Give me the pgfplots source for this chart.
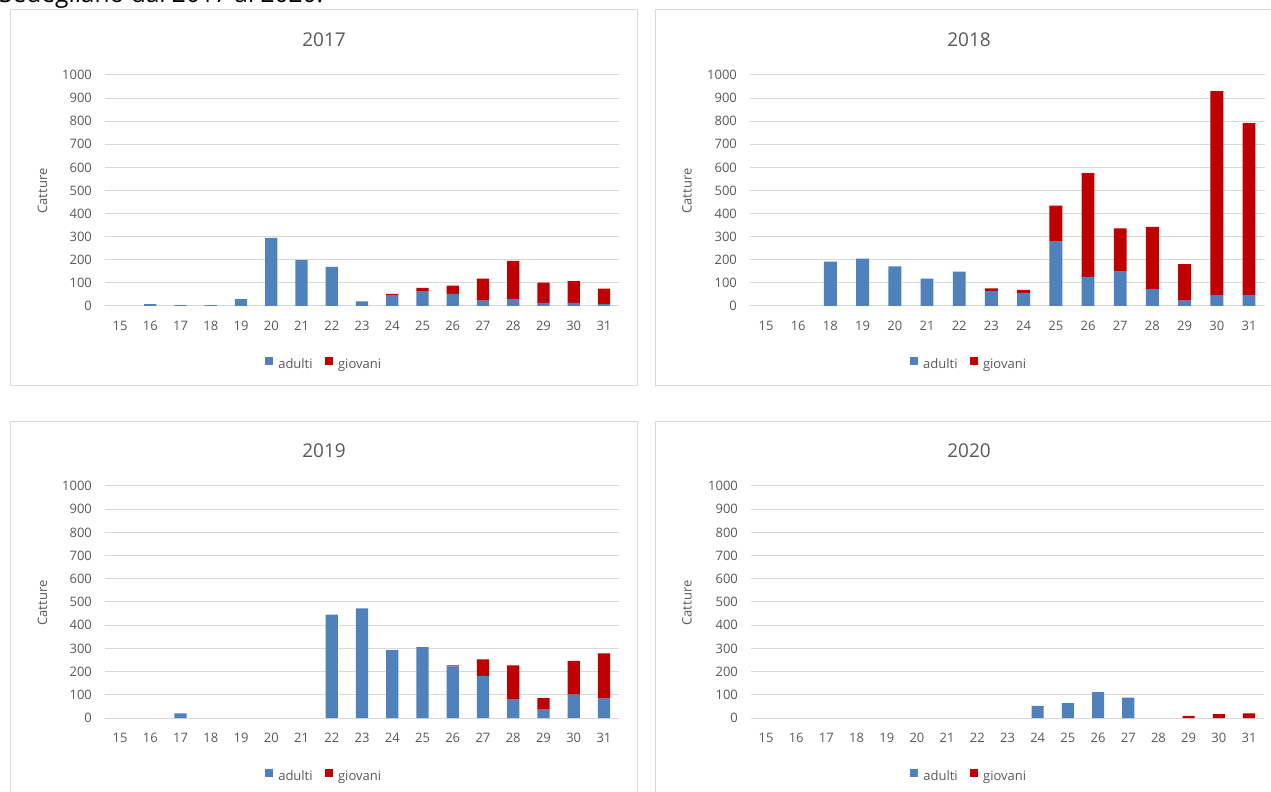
\documentclass[border=0pt]{standalone}
\usepackage{fontspec}
\setmainfont{Open Sans}
\usepackage{pgfplots}
\pgfplotsset{compat=1.18}
\definecolor{cblue}{HTML}{4F81BD}
\definecolor{cred}{HTML}{C00000}
\definecolor{gridgray}{HTML}{D9D9D9}
\definecolor{txtgray}{HTML}{595959}
\newcommand{\tf}{\fontsize{13}{15}\selectfont}
\newcommand{\ttl}{\fontsize{19}{22}\selectfont}
\pgfplotsset{panel/.style={
  scale only axis, ybar stacked, bar width=0.4,
  ymin=0, ymax=1000, ytick={0,100,...,1000},
  enlargelimits=false, clip=false,
  axis line style={draw=none}, major tick length=0pt,
  ymajorgrids, grid style={draw=gridgray, line width=1pt},
  tick label style={font=\tf, text=txtgray},
  /pgf/number format/assume math mode=true,
  /pgf/number format/1000 sep={},
  yticklabel style={xshift=-9.5pt},
  xticklabel style={yshift=-11.3pt},
  legend style={draw=none, fill=none, font=\tf, text=txtgray, legend columns=2, anchor=center,
     /tikz/every odd column/.append style={column sep=3pt},
     /tikz/every even column/.append style={column sep=10pt}},
  legend image code/.code={\fill[##1] (0pt,-1pt) rectangle (8.5pt,7.5pt);},
}}
\begin{document}
\begin{tikzpicture}
\useasboundingbox (0pt,0pt) rectangle (1271pt,792pt);
\clip (0pt,0pt) rectangle (1271pt,792pt);
\fill[white] (0pt,0pt) rectangle (1271pt,792pt);
% frames
\draw[gridgray, line width=1pt] (10pt,782pt) rectangle (637pt,406pt);
\draw[gridgray, line width=1pt] (655pt,782pt) rectangle (1285pt,406pt);
\draw[gridgray, line width=1pt] (10pt,370pt) rectangle (637pt,-10pt);
\draw[gridgray, line width=1pt] (655pt,370pt) rectangle (1285pt,-10pt);
\node[anchor=base west, inner sep=0pt, font=\fontsize{24.5}{28}\selectfont] at (-1pt,789pt) {Sedegliano dal 2017 al 2020.};
% titles
\node[font=\ttl, text=txtgray] at (324pt,752pt) {2017};
\node[font=\ttl, text=txtgray] at (969pt,752pt) {2018};
\node[font=\ttl, text=txtgray] at (324pt,341pt) {2019};
\node[font=\ttl, text=txtgray] at (969pt,341pt) {2020};
\node[font=\tf, text=txtgray, rotate=90] at (42.5pt,601pt) {Catture};
\node[font=\tf, text=txtgray, rotate=90] at (687pt,601pt) {Catture};
\node[font=\tf, text=txtgray, rotate=90] at (42.5pt,189pt) {Catture};
\node[font=\tf, text=txtgray, rotate=90] at (687pt,189pt) {Catture};

% 2017
\begin{axis}[panel, at={(104.9pt,486pt)}, anchor=south west, width=514.2pt, height=231pt,
  xmin=-0.5, xmax=16.5, xtick={0,...,16}, xticklabels={15,16,17,18,19,20,21,22,23,24,25,26,27,28,29,30,31},
  legend style={at={(0.426,-0.252)}}]
\addplot[fill=cblue, draw=none] coordinates {(0,0) (1,8) (2,4) (3,4) (4,30) (5,295) (6,200) (7,169) (8,20) (9,47) (10,64) (11,52) (12,23) (13,30) (14,13) (15,13) (16,8)};
\addplot[fill=cred, draw=none] coordinates {(0,0) (1,0) (2,0) (3,0) (4,0) (5,0) (6,0) (7,0) (8,0) (9,6) (10,14) (11,36) (12,95) (13,165) (14,88) (15,95) (16,67)};
\legend{adulti, giovani}
\end{axis}

% 2018
\begin{axis}[panel, at={(749.9pt,486pt)}, anchor=south west, width=515.2pt, height=231pt,
  xmin=-0.5, xmax=15.5, xtick={0,...,15}, xticklabels={15,16,18,19,20,21,22,23,24,25,26,27,28,29,30,31},
  legend style={at={(0.425,-0.252)}}]
\addplot[fill=cblue, draw=none] coordinates {(0,0) (1,0) (2,192) (3,205) (4,171) (5,119) (6,149) (7,65) (8,57) (9,279) (10,126) (11,149) (12,73) (13,23) (14,47) (15,47)};
\addplot[fill=cred, draw=none] coordinates {(0,0) (1,0) (2,0) (3,0) (4,0) (5,0) (6,0) (7,11) (8,13) (9,155) (10,449) (11,187) (12,270) (13,158) (14,883) (15,745)};
\legend{adulti, giovani}
\end{axis}

% 2019
\begin{axis}[panel, at={(104.9pt,74pt)}, anchor=south west, width=514.2pt, height=232pt,
  xmin=-0.5, xmax=16.5, xtick={0,...,16}, xticklabels={15,16,17,18,19,20,21,22,23,24,25,26,27,28,29,30,31},
  legend style={at={(0.426,-0.251)}}]
\addplot[fill=cblue, draw=none] coordinates {(0,0) (1,0) (2,20) (3,0) (4,0) (5,0) (6,0) (7,446) (8,473) (9,293) (10,305) (11,223) (12,180) (13,79) (14,36) (15,101) (16,83)};
\addplot[fill=cred, draw=none] coordinates {(0,0) (1,0) (2,0) (3,0) (4,0) (5,0) (6,0) (7,0) (8,0) (9,0) (10,0) (11,4) (12,73) (13,148) (14,50) (15,145) (16,196)};
\legend{adulti, giovani}
\end{axis}

% 2020
\begin{axis}[panel, at={(750.9pt,74pt)}, anchor=south west, width=513.2pt, height=232pt,
  xmin=-0.5, xmax=16.5, xtick={0,...,16}, xticklabels={15,16,17,18,19,20,21,22,23,24,25,26,27,28,29,30,31},
  legend style={at={(0.425,-0.251)}}]
\addplot[fill=cblue, draw=none] coordinates {(0,0) (1,0) (2,0) (3,0) (4,0) (5,0) (6,0) (7,0) (8,0) (9,52) (10,64) (11,112) (12,88) (13,0) (14,0) (15,0) (16,0)};
\addplot[fill=cred, draw=none] coordinates {(0,0) (1,0) (2,0) (3,0) (4,0) (5,0) (6,0) (7,0) (8,0) (9,0) (10,0) (11,0) (12,0) (13,0) (14,9) (15,17) (16,20)};
\legend{adulti, giovani}
\end{axis}
\end{tikzpicture}
\end{document}
